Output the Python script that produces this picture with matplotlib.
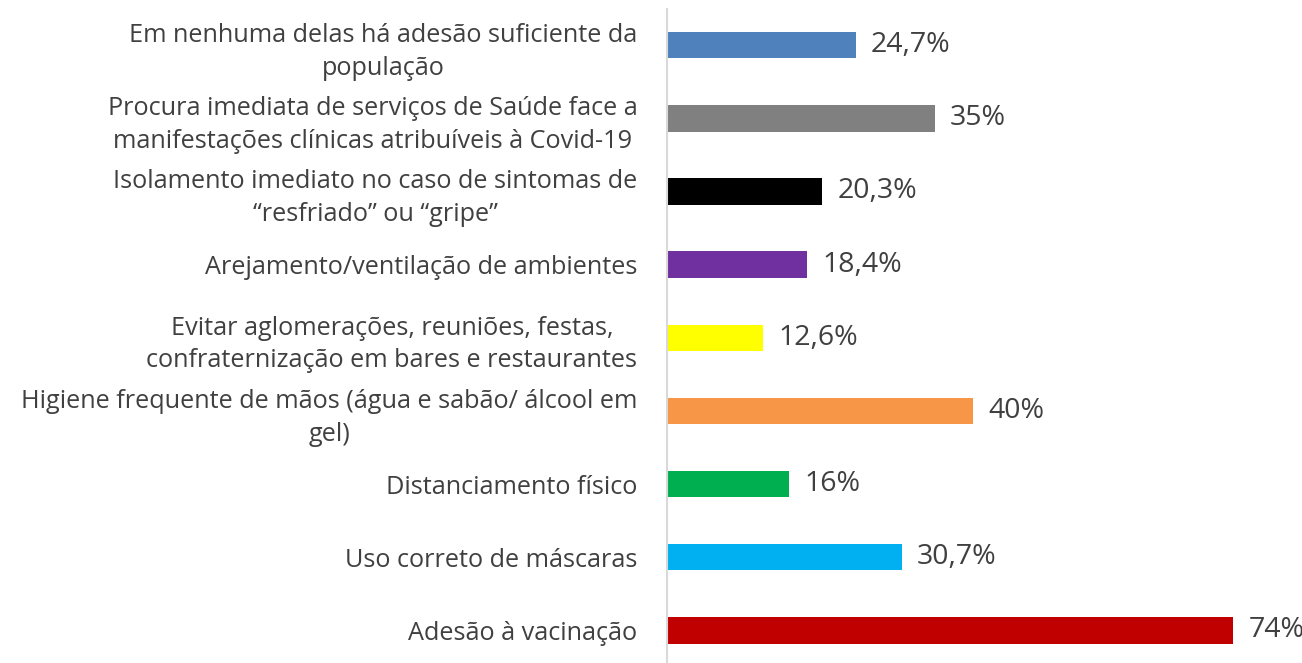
import matplotlib
matplotlib.use("Agg")
import matplotlib.pyplot as plt

# medidas, de cima para baixo
labels = [
    "Em nenhuma delas há adesão suficiente da\npopulação",
    "Procura imediata de serviços de Saúde face a\nmanifestações clínicas atribuíveis à Covid-19",
    "Isolamento imediato no caso de sintomas de\n“resfriado” ou “gripe”",
    "Arejamento/ventilação de ambientes",
    "Evitar aglomerações, reuniões, festas,\nconfraternização em bares e restaurantes",
    "Higiene frequente de mãos (água e sabão/ álcool em\ngel)",
    "Distanciamento físico",
    "Uso correto de máscaras",
    "Adesão à vacinação",
]
values = [24.7, 35, 20.3, 18.4, 12.6, 40, 16, 30.7, 74]
value_text = ["24,7%", "35%", "20,3%", "18,4%", "12,6%", "40%", "16%", "30,7%", "74%"]
colors = ["#4f81bd", "#808080", "#000000", "#7030a0", "#ffff00",
          "#f79646", "#00b050", "#00b0f0", "#c00000"]

plt.rcParams["font.family"] = ["Open Sans", "DejaVu Sans"]
text_color = "#404040"

fig = plt.figure(figsize=(13.02, 6.63), dpi=100)
ax = fig.add_axes([0.512, -0.006, 0.488, 0.993])

ypos = list(range(len(labels)))[::-1]
ax.barh(ypos, values, height=0.36, color=colors)

for y, v, t in zip(ypos, values, value_text):
    ax.annotate(t, (v, y), xytext=(11, 0), textcoords="offset points",
                ha="left", va="center", fontsize=20.5, color=text_color)

ax.set_xlim(0, 83)
ax.set_ylim(-0.5, len(labels) - 0.5)
ax.set_yticks(ypos)
ax.set_yticklabels(labels, fontsize=18.2, color=text_color)
for lab in ax.get_yticklabels():
    lab.set_multialignment("center")
    lab.set_linespacing(1.4)
ax.tick_params(axis="y", length=0, pad=21)
ax.set_xticks([])

for s in ["top", "right", "bottom"]:
    ax.spines[s].set_visible(False)
ax.spines["left"].set_color("#d9d9d9")
ax.spines["left"].set_linewidth(1.5)

fig.savefig("out.png", dpi=100)
